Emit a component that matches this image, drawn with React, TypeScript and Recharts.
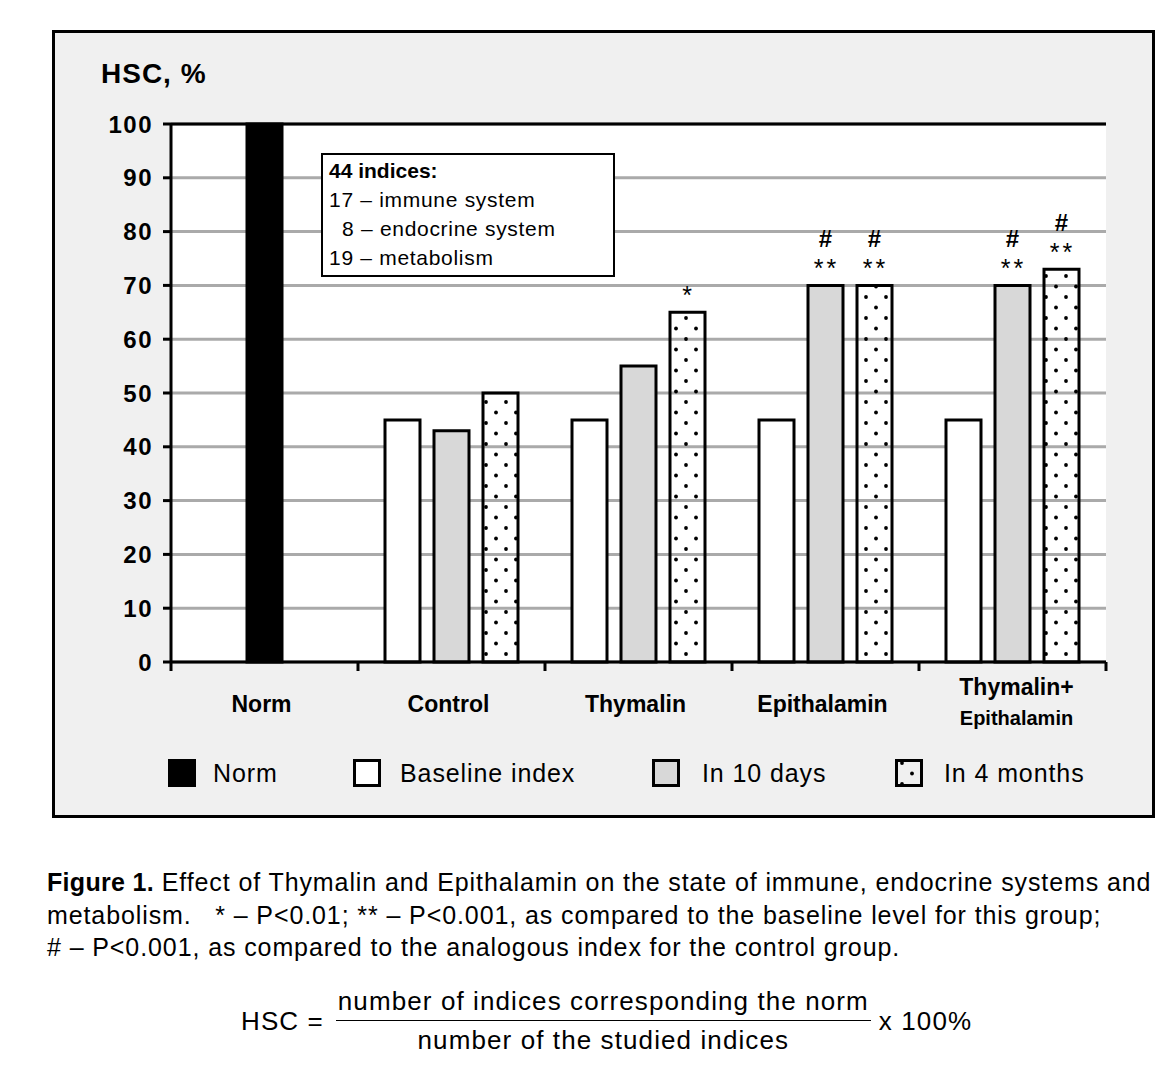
import React from "react";
import {
  BarChart,
  Bar,
  XAxis,
  YAxis,
  CartesianGrid,
  ReferenceLine,
  LabelList,
} from "recharts";

const categories = ["Norm", "Control", "Thymalin", "Epithalamin", "Thymalin+\nEpithalamin"];
const norm = [100, null, null, null, null];
const baseline = [null, 45, 45, 45, 45];
const tenDays = [null, 43, 55, 70, 70];
const fourMonths = [null, 50, 65, 70, 73];
// significance marks: "stars|hash"
const tenDaysSig = ["", "", "", "**|#", "**|#"];
const fourMonthsSig = ["", "", "*|", "**|#", "**|#"];
const yTicks = [0, 10, 20, 30, 40, 50, 60, 70, 80, 90, 100];
const boxTitle = "44 indices:";
const boxLines = ["17 – immune system", "\u00a0\u00a08 – endocrine system", "19 – metabolism"];
const legendItems = [
  { key: "norm", label: "Norm" },
  { key: "baseline", label: "Baseline index" },
  { key: "tenDays", label: "In 10 days" },
  { key: "fourMonths", label: "In 4 months" },
];

const FONT = "'Liberation Sans', Arial, sans-serif";
const CHART_W = 1174;
const CHART_H = 740;
const MARGIN = { top: 124, right: 68, left: 111, bottom: 8 };
const YAXIS_W = 60;
const BAND = (CHART_W - MARGIN.left - MARGIN.right - YAXIS_W) / categories.length;

const data = categories.map((name, i) => ({
  name,
  norm: norm[i],
  baseline: baseline[i],
  tenDays: tenDays[i],
  fourMonths: fourMonths[i],
  tenDaysSig: tenDaysSig[i],
  fourMonthsSig: fourMonthsSig[i],
}));

function SigLabel(props: any) {
  const vb = props.viewBox || {};
  const v = props.value ? String(props.value) : "";
  if (!v) return null;
  const [stars, hash] = v.split("|");
  const top = Math.min(vb.y, vb.y + vb.height);
  const cx = vb.x + vb.width / 2;
  return (
    <g>
      {stars && (
        <text x={cx + 1} y={top - 8} textAnchor="middle" fontSize={25} fontFamily={FONT} letterSpacing={3} fill="#000">
          {stars}
        </text>
      )}
      {hash && (
        <text x={cx} y={top - 38} textAnchor="middle" fontSize={24} fontWeight="bold" fontFamily={FONT} fill="#000">
          {hash}
        </text>
      )}
    </g>
  );
}

function CategoryTick(props: any) {
  const { x, y, payload, index } = props;
  const lines = String(payload.value).split("\n");
  return (
    <g>
      <line x1={x - BAND / 2} x2={x - BAND / 2} y1={y} y2={y + 9} stroke="#000" strokeWidth={3} />
      {index === categories.length - 1 && (
        <line x1={x + BAND / 2} x2={x + BAND / 2} y1={y} y2={y + 9} stroke="#000" strokeWidth={3} />
      )}
      {lines.length === 1 ? (
        <text x={x - 3} y={y + 50} textAnchor="middle" fontSize={23} fontWeight="bold" fontFamily={FONT} fill="#000">
          {lines[0]}
        </text>
      ) : (
        <>
          <text x={x + 4} y={y + 33} textAnchor="middle" fontSize={23} fontWeight="bold" fontFamily={FONT} fill="#000">
            {lines[0]}
          </text>
          <text x={x + 4} y={y + 63} textAnchor="middle" fontSize={20} fontWeight="bold" fontFamily={FONT} fill="#000">
            {lines[1]}
          </text>
        </>
      )}
    </g>
  );
}

function Swatch({ kind }: { kind: string }) {
  return (
    <svg width={28} height={28} style={{ display: "block" }}>
      <defs>
        <pattern id="sw-dots" width={20} height={21} patternUnits="userSpaceOnUse" x={3} y={1}>
          <circle cx={4} cy={3} r={1.9} fill="#000" />
          <circle cx={14} cy={13.5} r={1.9} fill="#000" />
        </pattern>
      </defs>
      <rect
        x={1.5}
        y={1.5}
        width={25}
        height={25}
        stroke="#000"
        strokeWidth={3}
        fill={kind === "norm" ? "#000" : kind === "baseline" ? "#fff" : kind === "tenDays" ? "#d8d8d8" : "url(#sw-dots)"}
      />
    </svg>
  );
}

export default function App() {
  const squareLefts = [168, 353, 652, 895];
  const textLefts = [213, 400, 702, 944];
  return (
    <div style={{ position: "absolute", left: 0, top: 0, width: 1174, height: 1076, fontFamily: FONT }}>
      <div
        style={{
          position: "absolute",
          left: 52,
          top: 30,
          width: 1097,
          height: 782,
          border: "3px solid #000",
          background: "#f0f0f0",
        }}
      />
      <div style={{ position: "absolute", left: 0, top: 0 }}>
        <BarChart width={CHART_W} height={CHART_H} data={data} margin={MARGIN} barSize={35} barGap={14}>
          <defs>
            <pattern id="dots" width={20} height={21} patternUnits="userSpaceOnUse" x={2} y={0}>
              <circle cx={4} cy={3} r={1.9} fill="#000" />
              <circle cx={14} cy={13.5} r={1.9} fill="#000" />
            </pattern>
          </defs>
          <CartesianGrid vertical={false} stroke="#aaa" strokeWidth={3} fill="#fff" />
          <XAxis
            dataKey="name"
            height={CHART_H - 662 - MARGIN.bottom}
            axisLine={{ stroke: "#000", strokeWidth: 3 }}
            tickLine={false}
            tickSize={0}
            tickMargin={0}
            interval={0}
            tick={<CategoryTick />}
          />
          <YAxis
            width={YAXIS_W}
            domain={[0, 100]}
            ticks={yTicks}
            interval={0}
            axisLine={{ stroke: "#000", strokeWidth: 3 }}
            tickLine={{ stroke: "#000", strokeWidth: 3 }}
            tickSize={8}
            tickMargin={10}
            tick={{ fontSize: 24, fontWeight: "bold", fill: "#000", fontFamily: FONT, letterSpacing: 1.5 }}
          />
          <YAxis
            yAxisId="r"
            orientation="right"
            width={0}
            domain={[0, 100]}
            tick={false}
            tickLine={false}
            axisLine={{ stroke: "#000", strokeWidth: 2 }}
          />
          <ReferenceLine y={100} stroke="#000" strokeWidth={3} />
          <Bar dataKey="baseline" stackId="a" fill="#fff" stroke="#000" strokeWidth={3} isAnimationActive={false} />
          <Bar dataKey="norm" stackId="b" fill="#000" stroke="#000" strokeWidth={3} isAnimationActive={false} />
          <Bar dataKey="tenDays" stackId="b" fill="#d8d8d8" stroke="#000" strokeWidth={3} isAnimationActive={false}>
            <LabelList dataKey="tenDaysSig" content={<SigLabel />} />
          </Bar>
          <Bar dataKey="fourMonths" stackId="c" fill="url(#dots)" stroke="#000" strokeWidth={3} isAnimationActive={false}>
            <LabelList dataKey="fourMonthsSig" content={<SigLabel />} />
          </Bar>
        </BarChart>
      </div>

      <div
        style={{
          position: "absolute",
          left: 101,
          top: 57,
          fontSize: 28,
          fontWeight: "bold",
          lineHeight: "34px",
          letterSpacing: 1,
        }}
      >
        HSC, %
      </div>

      <div
        style={{
          position: "absolute",
          left: 321,
          top: 153,
          width: 294,
          height: 124,
          border: "2px solid #000",
          background: "#fff",
          fontSize: 21,
          lineHeight: "29px",
          paddingLeft: 6,
          paddingTop: 1,
          boxSizing: "border-box",
        }}
      >
        <div style={{ fontWeight: "bold" }}>{boxTitle}</div>
        {boxLines.map((l) => (
          <div key={l} style={{ letterSpacing: 0.7 }}>
            {l}
          </div>
        ))}
      </div>

      {legendItems.map((item, i) => (
        <React.Fragment key={item.key}>
          <div style={{ position: "absolute", left: squareLefts[i], top: 759 }}>
            <Swatch kind={item.key} />
          </div>
          <div
            style={{
              position: "absolute",
              left: textLefts[i],
              top: 759,
              fontSize: 25,
              lineHeight: "28px",
              letterSpacing: 0.9,
              whiteSpace: "nowrap",
            }}
          >
            {item.label}
          </div>
        </React.Fragment>
      ))}

      <div
        style={{
          position: "absolute",
          left: 47,
          top: 866,
          fontSize: 25,
          lineHeight: "32.5px",
          letterSpacing: 0.9,
          whiteSpace: "nowrap",
        }}
      >
        <b style={{ letterSpacing: 0.3 }}>Figure 1.</b> Effect of Thymalin and Epithalamin on the state of immune,
        endocrine systems and
        <br />
        metabolism.&nbsp;&nbsp; * – P&lt;0.01; ** – P&lt;0.001, as compared to the baseline level for this group;
        <br /># – P&lt;0.001, as compared to the analogous index for the control group.
      </div>

      <div
        style={{
          position: "absolute",
          left: 241,
          top: 984,
          display: "flex",
          alignItems: "center",
          fontSize: 26,
          letterSpacing: 1.1,
          whiteSpace: "nowrap",
        }}
      >
        <span>HSC =</span>
        <span style={{ display: "inline-flex", flexDirection: "column", alignItems: "center", margin: "0 8px 0 12px" }}>
          <span style={{ borderBottom: "1.5px solid #000", padding: "0 2px 2px", lineHeight: "34px" }}>
            number of indices corresponding the norm
          </span>
          <span style={{ lineHeight: "38px" }}>number of the studied indices</span>
        </span>
        <span>x 100%</span>
      </div>
    </div>
  );
}
